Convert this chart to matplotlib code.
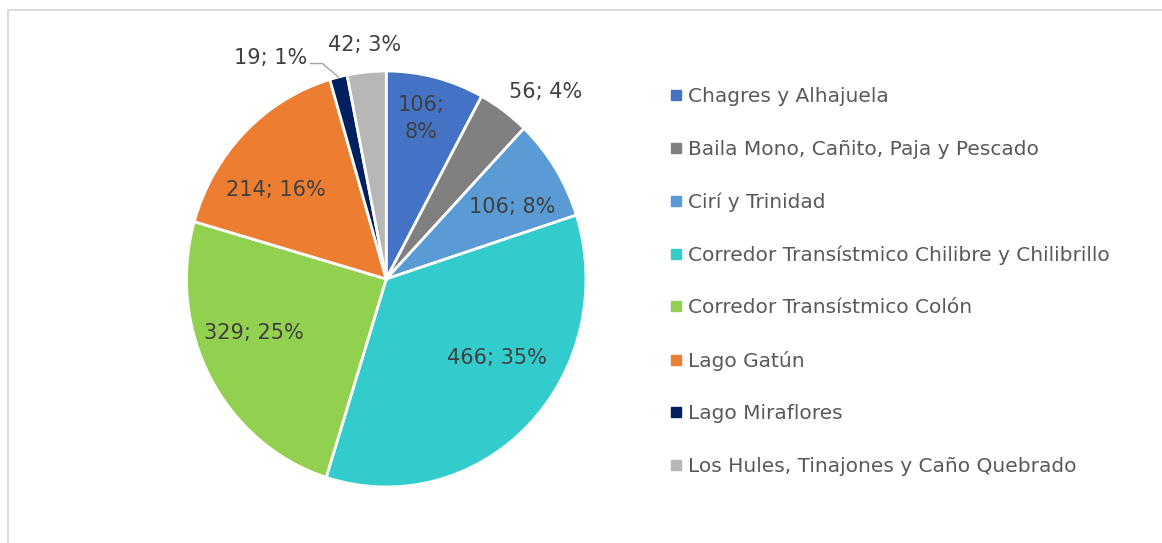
import matplotlib
matplotlib.use("Agg")

import matplotlib.pyplot as plt
import numpy as np
from matplotlib.lines import Line2D
from matplotlib.patches import Rectangle

# Data
categories = [
    "Chagres y Alhajuela",
    "Baila Mono, Cañito, Paja y Pescado",
    "Cirí y Trinidad",
    "Corredor Transístmico Chilibre y Chilibrillo",
    "Corredor Transístmico Colón",
    "Lago Gatún",
    "Lago Miraflores",
    "Los Hules, Tinajones y Caño Quebrado",
]
values = [106, 56, 106, 466, 329, 214, 19, 42]
colors = ["#4472C4", "#808080", "#5B9BD5", "#33CCCC",
          "#92D050", "#ED7D31", "#002060", "#B7B7B7"]

# label placement: radius (pie units) and angle nudge from the wedge middle
label_r = [0.79, 1.20, 0.72, 0.67, 0.71, 0.70, 1.21, 1.13]
label_shift = [1.5, -5.5, -3.6, 10.5, -6.7, 7.2, 14.6, -0.1]

W, H = 1162, 543
plt.rcParams["font.family"] = ["DejaVu Sans"]

fig = plt.figure(figsize=(W / 100, H / 100), dpi=100)

# light frame around the chart area (right/bottom edges run off the image)
fig.patches.append(Rectangle((8 / W, -0.1), 1.2, (H - 10) / H + 0.1,
                             transform=fig.transFigure, fill=False,
                             edgecolor="#D9D9D9", linewidth=1.3))

ax = fig.add_axes([186.5 / W, 56 / H, 399.5 / W, 416 / H])
wedges, _ = ax.pie(values, colors=colors, startangle=90, counterclock=False,
                   wedgeprops=dict(edgecolor="white", linewidth=2))
ax.set_aspect("auto")
ax.set_xlim(-1, 1)
ax.set_ylim(-1, 1)
ax.axis("off")

total = sum(values)
for i, (w, v) in enumerate(zip(wedges, values)):
    mid = np.deg2rad((w.theta1 + w.theta2) / 2)
    ang = mid + np.deg2rad(label_shift[i])
    txt = f"{v}; {round(100 * v / total)}%"
    if i == 0:
        txt = txt.replace("; ", ";\n")
    ax.text(label_r[i] * np.cos(ang), label_r[i] * np.sin(ang), txt,
            ha="center", va="center", fontsize=15, color="#404040",
            linespacing=1.45)

# leader line for the small "Lago Miraflores" slice
w = wedges[6]
mid = np.deg2rad((w.theta1 + w.theta2) / 2)
x0, y0 = np.cos(mid), np.sin(mid)
ax.plot([x0, x0 - 0.08, x0 - 0.14], [y0, y0 + 0.065, y0 + 0.065],
        color="#A6A6A6", linewidth=1, clip_on=False)

handles = [Line2D([], [], marker="s", linestyle="none", markersize=7,
                  markerfacecolor=c, markeredgecolor=c) for c in colors]
fig.legend(handles, categories, loc="upper left",
           bbox_to_anchor=(660 / W, (H - 79) / H), frameon=False,
           fontsize=14.5, labelcolor="#595959", labelspacing=1.665,
           handlelength=0.8, handletextpad=0.18, borderaxespad=0)

fig.savefig("out.png", dpi=100)
